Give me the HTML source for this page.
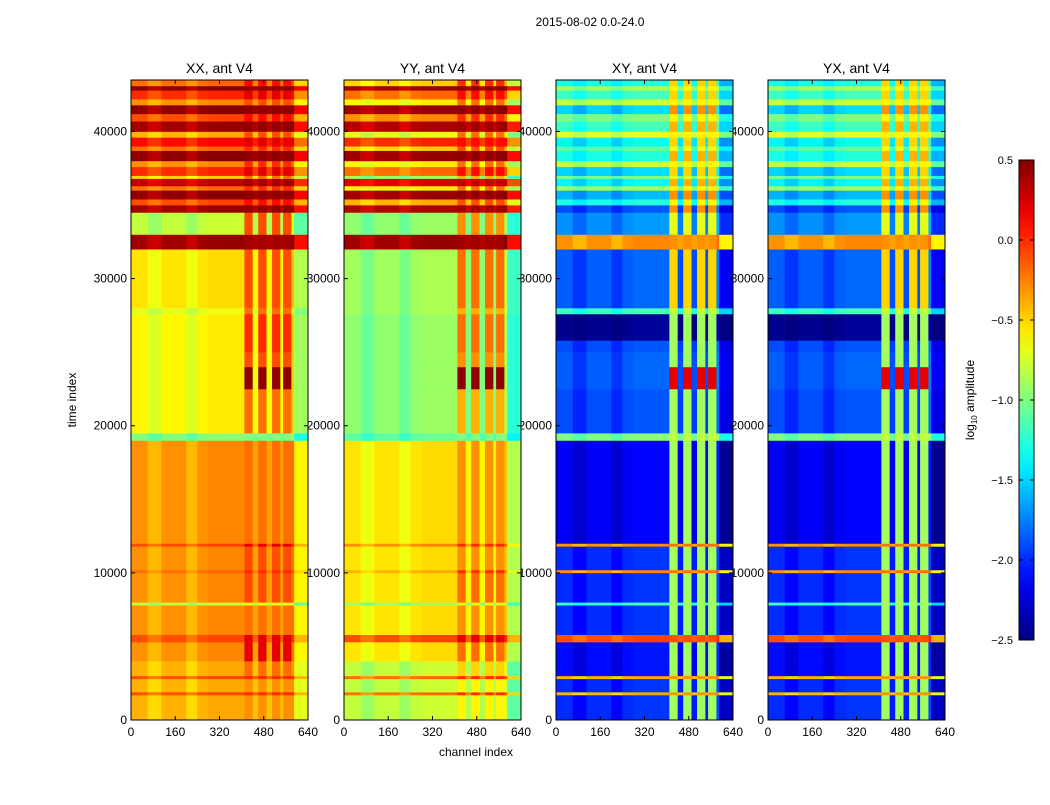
<!DOCTYPE html>
<html><head><meta charset="utf-8"><style>
body{margin:0;background:#fff;font-family:"Liberation Sans",sans-serif}
svg text{font-family:"Liberation Sans",sans-serif}
</style></head><body>
<svg id="fig" width="1050" height="800" xmlns="http://www.w3.org/2000/svg">
<rect width="1050" height="800" fill="#fff"/>
<text x="590" y="26" font-size="12" text-anchor="middle">2015-08-02 0.0-24.0</text>
<g id="labels"></g>
<g id="panels"></g>
<text x="76" y="400" font-size="12" text-anchor="middle" transform="rotate(-90 76 400)">time index</text>
<text x="476" y="756" font-size="12" text-anchor="middle">channel index</text>
<g id="cbar"></g>
</svg>
<script>
const panelTitles=["XX, ant V4","YY, ant V4","XY, ant V4","YX, ant V4"];
const xTicks=[0,160,320,480,640];
const yTicks=[0,10000,20000,30000,40000];
const cbTicks=[0.5,0.0,-0.5,-1.0,-1.5,-2.0,-2.5];
const bandEdges=[0,1700,1900,2800,3000,4000,5300,5800,7800,8000,10000,10200,11800,12000,19000,19500,22500,24000,25000,25800,27600,28000,32000,33000,34500,35000,35400,36000,36300,36800,37000,37600,38000,38700,39000,39600,40000,40700,41200,41800,42200,42800,43100,43500];
const chanEdges=[0,60,110,200,240,280,410,440,460,490,510,540,550,580,590,640];
const chanKind=[0,0,0,0,0,0,1,0,1,0,1,0,1,0,0];
const chanOffset=[0,-0.12,0,-0.12,0,0.03,0,-0.05,0,-0.05,0,-0.05,0,0.1,-0.3];
const xxBase=[-0.4,-0.1,-0.4,-0.1,-0.4,-0.3,-0.1,-0.3,-0.8,-0.3,-0.2,-0.3,-0.1,-0.3,-1.0,-0.6,-0.6,-0.6,-0.6,-0.6,-0.7,-0.55,0.4,-0.8,0.4,-0.1,0.45,-0.2,0.3,-0.5,0.0,-0.3,0.45,-0.2,0.1,-0.4,0.4,-0.1,0.45,-0.3,0.0,0.45,-0.2];
const xxStripe=[-0.3,0,-0.3,0,-0.2,0.2,0.2,-0.2,-0.6,-0.1,0,-0.1,0.2,-0.2,-1.0,-0.2,0.45,-0.1,0,0,-0.2,-0.1,0.4,-0.1,0.45,0.1,0.45,0.0,0.4,-0.2,0.2,0.0,0.45,0.0,0.2,-0.1,0.45,0.1,0.45,-0.1,0.2,0.45,0.1];
const yyBase=[-0.8,-0.2,-0.8,-0.2,-0.8,-0.55,-0.1,-0.55,-0.9,-0.55,-0.4,-0.55,-0.3,-0.55,-1.1,-0.95,-0.95,-0.95,-0.95,-0.95,-0.9,-0.9,0.4,-0.95,0.35,-0.4,0.4,-0.6,0.2,-0.9,-0.2,-0.6,0.4,-0.5,0.0,-0.7,0.35,-0.3,0.4,-0.6,-0.2,0.4,-0.5];
const yyStripe=[-0.6,0,-0.6,0,-0.5,-0.2,0.2,-0.3,-0.7,-0.2,0,-0.3,0,-0.3,-1.0,-0.4,0.45,-0.3,-0.2,-0.2,-0.4,-0.2,0.4,-0.3,0.4,-0.1,0.45,-0.2,0.3,-0.4,0.1,-0.2,0.45,-0.1,0.1,-0.2,0.4,0.0,0.45,-0.2,0.1,0.45,0.0];
const xyBase=[-2.0,-0.4,-2.0,-0.4,-2.1,-2.1,-0.1,-2.0,-1.2,-2.0,-0.3,-2.0,-0.3,-2.15,-1.0,-1.9,-1.85,-1.85,-1.9,-2.45,-1.2,-1.85,-0.3,-1.7,-1.9,-1.3,-1.6,-0.9,-1.4,-1.0,-1.5,-0.8,-1.3,-1.1,-1.4,-0.7,-1.2,-1.0,-1.5,-0.8,-1.2,-0.9,-1.3];
const xyStripe=[-0.9,-0.3,-0.9,-0.3,-0.9,-0.9,-0.1,-0.9,-0.9,-0.9,-0.2,-0.9,-0.2,-0.9,-0.8,-0.9,0.2,-0.9,-0.9,-0.9,-0.8,-0.5,-0.3,-0.7,-0.3,-0.6,-0.3,-0.6,-0.4,-0.7,-0.5,-0.6,-0.4,-0.7,-0.5,-0.6,-0.4,-0.6,-0.3,-0.6,-0.5,-0.6,-0.5];
const yxBase=xyBase.slice();
const yxStripe=xyStripe.slice();
const series=[[xxBase,xxStripe],[yyBase,yyStripe],[xyBase,xyStripe],[yxBase,yxStripe]];

const NS="http://www.w3.org/2000/svg";
const panelX=[131,344,556,768], PW=177, PT=80, PB=720;
const yMax=43500, xMax=640, vmin=-2.5, vmax=0.5;
function yS(v){return PB-(v/yMax)*(PB-PT);}
function xS(p,v){return panelX[p]+(v/xMax)*PW;}
function jet(v){let t=Math.max(0,Math.min(1,(v-vmin)/(vmax-vmin)));
 const c=x=>Math.round(255*Math.max(0,Math.min(1,x)));
 return `rgb(${c(1.5-Math.abs(4*t-3))},${c(1.5-Math.abs(4*t-2))},${c(1.5-Math.abs(4*t-1))})`;}
function mk(tag,attrs,parent){const e=document.createElementNS(NS,tag);for(const k in attrs)e.setAttribute(k,attrs[k]);parent.appendChild(e);return e;}
const labels=document.getElementById('labels'), panels=document.getElementById('panels');
for(let p=0;p<4;p++){
 yTicks.forEach(t=>{const e=mk('text',{x:panelX[p]-4,y:yS(t)+4,'font-size':12,'text-anchor':'end'},labels);
  
  
  e.textContent=t;});
 xTicks.forEach(t=>{const e=mk('text',{x:xS(p,t),y:736,'font-size':12,'text-anchor':'middle'},labels);
  
  
  e.textContent=t;});
 const g=mk('g',{},panels);
 
 
 const [base,stripe]=series[p];
 for(let b=0;b<bandEdges.length-1;b++){
  for(let c=0;c<chanEdges.length-1;c++){
   let v=(chanKind[c]?stripe[b]:base[b])+chanOffset[c];
   const y0=yS(bandEdges[b+1]), y1=yS(bandEdges[b]);
   const r=mk('rect',{x:xS(p,chanEdges[c]),y:y0,width:xS(p,chanEdges[c+1])-xS(p,chanEdges[c])+0.3,height:y1-y0+0.3,fill:jet(v)},g);
   
   
  }
 }
 xTicks.forEach(t=>{const x=xS(p,t);mk('line',{x1:x,x2:x,y1:PB,y2:PB-4,stroke:'#000'},g);mk('line',{x1:x,x2:x,y1:PT,y2:PT+4,stroke:'#000'},g);});
 yTicks.forEach(t=>{const y=yS(t);mk('line',{x1:panelX[p],x2:panelX[p]+4,y1:y,y2:y,stroke:'#000'},g);mk('line',{x1:panelX[p]+PW,x2:panelX[p]+PW-4,y1:y,y2:y,stroke:'#000'},g);});
 const fr=mk('rect',{x:panelX[p],y:PT,width:PW,height:PB-PT,fill:'none',stroke:'#000','stroke-width':1},g);
 
 
 const tt=mk('text',{x:panelX[p]+PW/2,y:73,'font-size':14,'text-anchor':'middle'},g);
 
 
 tt.textContent=panelTitles[p];
}
const cb=document.getElementById('cbar');


const CX=1019,CW=15,CT=160,CB=640;
function cY(v){return CB-(v-vmin)/(vmax-vmin)*(CB-CT);}
const defs=mk('defs',{},cb);const lg=mk('linearGradient',{id:'jg',x1:0,y1:1,x2:0,y2:0},defs);
for(let i=0;i<=20;i++){mk('stop',{offset:i/20,'stop-color':jet(vmin+(vmax-vmin)*i/20)},lg);}
mk('rect',{x:CX,y:CT,width:CW,height:CB-CT,fill:'url(#jg)',stroke:'#000'},cb);
cbTicks.forEach(t=>{const y=cY(t);mk('line',{x1:CX+CW-4,x2:CX+CW,y1:y,y2:y,stroke:'#000'},cb);mk('line',{x1:CX,x2:CX+4,y1:y,y2:y,stroke:'#000'},cb);
 const e=mk('text',{x:CX-6,y:y+4,'font-size':11,'text-anchor':'end'},cb);
 
 
 e.textContent=(t<0?'\u2212'+Math.abs(t).toFixed(1):t.toFixed(1));});
const cl=mk('text',{x:974,y:400,'font-size':12,'text-anchor':'middle',transform:'rotate(-90 974 400)'},cb);


cl.innerHTML='log<tspan font-size="8" dy="3">10</tspan><tspan dy="-3"> amplitude</tspan>';
</script>
</body></html>
